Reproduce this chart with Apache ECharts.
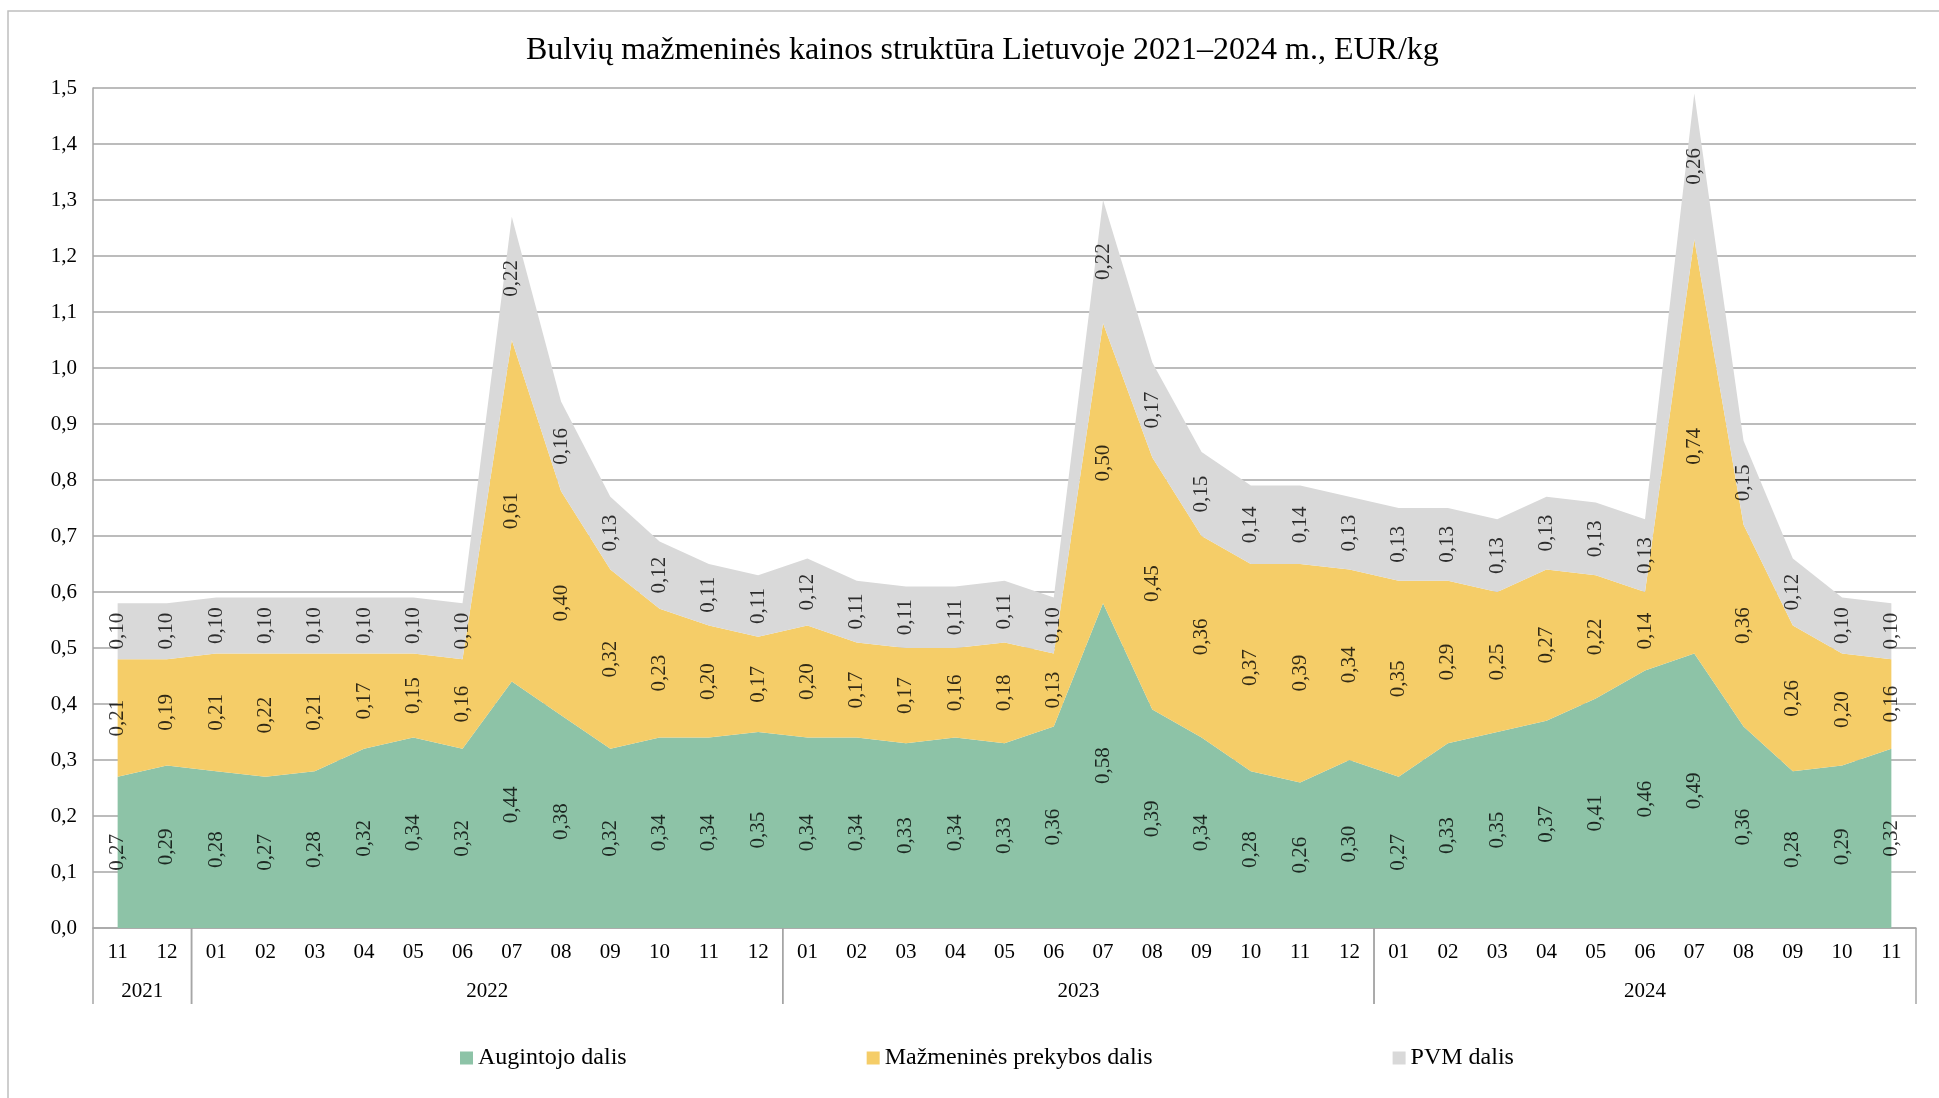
<!DOCTYPE html>
<html>
<head>
<meta charset="utf-8">
<script src="https://cdn.jsdelivr.net/npm/echarts@6/dist/echarts.min.js"></script>
<style>
  html, body { margin: 0; padding: 0; background: #fff; }
  #chart { width: 1939px; height: 1098px; }
</style>
</head>
<body>
<div id="chart"></div>
<script>
// Month labels (2021-11 .. 2024-11)
const months = [
  '11', '12',
  '01', '02', '03', '04', '05', '06', '07', '08', '09', '10', '11', '12',
  '01', '02', '03', '04', '05', '06', '07', '08', '09', '10', '11', '12',
  '01', '02', '03', '04', '05', '06', '07', '08', '09', '10', '11'
];

// year groups: label + first/last month index
const yearLabels = ['2021', '2022', '2023', '2024'];
const yearStart = [0, 2, 14, 26];
const yearEnd = [1, 13, 25, 36];

// Augintojo dalis
const grower = [
  0.27, 0.29,
  0.28, 0.27, 0.28, 0.32, 0.34, 0.32, 0.44, 0.38, 0.32, 0.34, 0.34, 0.35,
  0.34, 0.34, 0.33, 0.34, 0.33, 0.36, 0.58, 0.39, 0.34, 0.28, 0.26, 0.30,
  0.27, 0.33, 0.35, 0.37, 0.41, 0.46, 0.49, 0.36, 0.28, 0.29, 0.32
];

// Mažmeninės prekybos dalis
const retail = [
  0.21, 0.19,
  0.21, 0.22, 0.21, 0.17, 0.15, 0.16, 0.61, 0.40, 0.32, 0.23, 0.20, 0.17,
  0.20, 0.17, 0.17, 0.16, 0.18, 0.13, 0.50, 0.45, 0.36, 0.37, 0.39, 0.34,
  0.35, 0.29, 0.25, 0.27, 0.22, 0.14, 0.74, 0.36, 0.26, 0.20, 0.16
];

// PVM dalis
const vat = [
  0.10, 0.10,
  0.10, 0.10, 0.10, 0.10, 0.10, 0.10, 0.22, 0.16, 0.13, 0.12, 0.11, 0.11,
  0.12, 0.11, 0.11, 0.11, 0.11, 0.10, 0.22, 0.17, 0.15, 0.14, 0.14, 0.13,
  0.13, 0.13, 0.13, 0.13, 0.13, 0.13, 0.26, 0.15, 0.12, 0.10, 0.10
];

const FONT = "'Liberation Serif', 'Times New Roman', serif";
const GREEN = '#8DC3A7';
const YELLOW = '#F5CD68';
const GREY = '#D9D9D9';
const AXIS = '#A6A6A6';

const fmt = v => v.toFixed(2).replace('.', ',');

// one stacked area series
function areaSeries(name, data, color) {
  return {
    name: name,
    type: 'line',
    stack: 'price',
    data: data,
    symbol: 'none',
    lineStyle: { width: 0 },
    areaStyle: { color: color, opacity: 1 },
    itemStyle: { color: color },
    z: 2
  };
}

// value labels sit in the middle of each band
function labelSeries(name, values, below) {
  return {
    name: name,
    type: 'scatter',
    symbolSize: 0,
    silent: true,
    z: 5,
    data: values.map((v, i) => [i, below[i] + v / 2, v]),
    label: {
      show: true,
      position: 'inside',
      rotate: 90,
      color: '#000',
      fontFamily: FONT,
      fontSize: 21,
      formatter: p => fmt(p.value[2])
    }
  };
}

const zeros = grower.map(() => 0);
const top1 = grower.slice();
const top2 = grower.map((v, i) => v + retail[i]);

const chart = echarts.init(document.getElementById('chart'), null, { renderer: 'canvas' });

chart.setOption({
  animation: false,
  backgroundColor: '#fff',
  textStyle: { fontFamily: FONT },
  title: {
    text: 'Bulvių mažmeninės kainos struktūra Lietuvoje 2021–2024 m., EUR/kg',
    left: 521,
    top: 30,
    textStyle: { fontFamily: FONT, fontSize: 32, fontWeight: 'normal', color: '#000' }
  },
  graphic: [{
    type: 'rect',
    shape: { x: 8, y: 11, width: 1960, height: 1120 },
    style: { fill: 'none', stroke: '#BFBFBF', lineWidth: 1.5 },
    silent: true
  }],
  legend: {
    data: ['Augintojo dalis', 'Mažmeninės prekybos dalis', 'PVM dalis'],
    left: 455,
    top: 1041,
    itemWidth: 13,
    itemHeight: 13,
    itemGap: 240,
    icon: 'rect',
    textStyle: { fontFamily: FONT, fontSize: 24, color: '#000' }
  },
  grid: { left: 93, right: 23, top: 88, bottom: 170 },
  xAxis: {
    type: 'category',
    data: months,
    boundaryGap: true,
    axisLine: { lineStyle: { color: AXIS, width: 1.5 } },
    axisTick: { show: false },
    axisLabel: { color: '#000', fontFamily: FONT, fontSize: 21, margin: 14, interval: 0 }
  },
  yAxis: {
    type: 'value',
    min: 0,
    max: 1.5,
    interval: 0.1,
    axisLine: { show: true, lineStyle: { color: AXIS, width: 1.5 } },
    axisTick: { show: false },
    splitLine: { lineStyle: { color: AXIS, width: 1.5 } },
    axisLabel: {
      color: '#000', fontFamily: FONT, fontSize: 21, margin: 16,
      formatter: v => v.toFixed(1).replace('.', ',')
    }
  },
  series: [
    areaSeries('Augintojo dalis', grower, GREEN),
    areaSeries('Mažmeninės prekybos dalis', retail, YELLOW),
    areaSeries('PVM dalis', vat, GREY),
    labelSeries('lbl-grower', grower, zeros),
    labelSeries('lbl-retail', retail, top1),
    labelSeries('lbl-vat', vat, top2),
    {
      // year group separators and labels under the month axis
      name: 'years',
      type: 'custom',
      clip: false,
      silent: true,
      z: 6,
      data: yearLabels.map((y, i) => [yearStart[i], yearEnd[i]]),
      renderItem: function (params, api) {
        const w = api.size([1, 0])[0];
        const a = api.coord([api.value(0), 0]);
        const b = api.coord([api.value(1), 0]);
        const xL = a[0] - w / 2;
        const xR = b[0] + w / 2;
        const y0 = a[1];
        const lineStyle = { stroke: AXIS, lineWidth: 1.5 };
        return {
          type: 'group',
          children: [
            { type: 'line', shape: { x1: xL, y1: y0, x2: xL, y2: y0 + 76 }, style: lineStyle },
            { type: 'line', shape: { x1: xR, y1: y0, x2: xR, y2: y0 + 76 }, style: lineStyle },
            {
              type: 'text',
              x: (xL + xR) / 2,
              y: y0 + 63,
              style: {
                text: yearLabels[params.dataIndex],
                fontFamily: FONT,
                fontSize: 21,
                fill: '#000',
                align: 'center',
                verticalAlign: 'middle'
              }
            }
          ]
        };
      }
    }
  ]
});
</script>
</body>
</html>
